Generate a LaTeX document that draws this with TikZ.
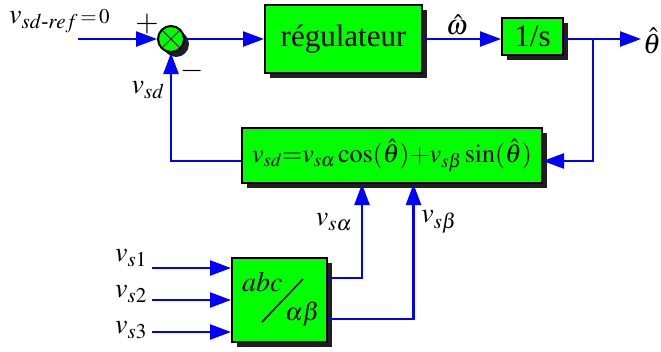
\documentclass[tikz,border=0pt]{standalone}
\usepackage{amsmath}
\usepackage{mathptmx}
\usepackage{fontspec}
\setmainfont{Liberation Serif}
\DeclareMathSizes{28}{28}{21}{16}
\DeclareMathSizes{26}{26}{19}{14}
\DeclareMathSizes{25}{25}{18}{13}
\DeclareMathSizes{30}{30}{21}{16}
\usetikzlibrary{arrows.meta,shadows,calc}
\definecolor{lgreen}{RGB}{0,255,0}
\definecolor{lblue}{RGB}{0,0,255}
\tikzset{
  blk/.style={draw=black, line width=2pt, fill=lgreen, inner sep=0pt,
    drop shadow={shadow xshift=5pt, shadow yshift=-5pt, opacity=1, fill=black!88}},
  sig/.style={draw=lblue, line width=2.4pt},
  arr/.style={sig, -{Triangle[length=21pt,width=15pt]}},
  lbl/.style={inner sep=0pt, font=\fontsize{28}{30}\selectfont},
  sgn/.style={inner sep=0pt, font=\fontsize{30}{32}\selectfont},
}
\begin{document}
\begin{tikzpicture}[x=1pt,y=-1pt]
\useasboundingbox (0,0) rectangle (661,351);
% blocks
\node[blk, circle, minimum size=26pt] (sum) at (171,39) {};
\draw[line width=1pt] ($(sum.center)+(-8.5,-8.5)$) -- ($(sum.center)+(8.5,8.5)$);
\draw[line width=1pt] ($(sum.center)+(-8.5,8.5)$) -- ($(sum.center)+(8.5,-8.5)$);
\node[blk, minimum width=157pt, minimum height=68pt] (reg) at (343.5,39)
  {\fontsize{31}{33}\selectfont régulateur};
\node[blk, minimum width=61pt, minimum height=37pt] (integ) at (532.5,36)
  {\fontsize{31}{33}\selectfont 1/s};
\node[blk, minimum width=300pt, minimum height=55pt] (fb) at (392,155.5)
  {\fontsize{26}{28}\selectfont $v_{sd}{=}v_{s\alpha}\cos(\hat{\theta}){+}v_{s\beta}\sin(\hat{\theta})$};
\node[blk, minimum width=95pt, minimum height=84pt] (abc) at (279.5,300) {};
\node[lbl, anchor=base west] (abcT) at (242,291) {$abc$};
\node[lbl, font=\fontsize{25}{27}\selectfont, anchor=base east] (abAB) at (320,320) {$\alpha\beta$};
\draw[line width=1.6pt] (262,322) -- (303,279);
% coordinates
\coordinate (in) at (78,39);
\coordinate (out) at (641,39);
\coordinate (br) at (593,39);
\coordinate (fbR) at (593,161);
\coordinate (fbL) at (171,161);
\coordinate (i1) at (152,268);
\coordinate (i2) at (152,300);
\coordinate (i3) at (152,332);
\coordinate (o1) at (362,278);
\coordinate (o2) at (413.5,319);
% connectors
\draw[arr] (in) -- (sum.west);
\draw[arr] (sum.east) -- (reg.west);
\draw[arr] (reg.east) -- (reg.east -| integ.west);
\draw[arr] (integ.east |- out) -- (out);
\draw[arr] (br) -- (fbR) -- (fbR -| fb.east);
\draw[arr] (fbL -| fb.west) -- (fbL) -- (sum.south);
\draw[arr] (i1) -- (i1 -| abc.west);
\draw[arr] (i2) -- (i2 -| abc.west);
\draw[arr] (i3) -- (i3 -| abc.west);
\draw[arr] (o1 -| abc.east) -- (o1) -- (o1 |- fb.south);
\draw[arr] (o2 -| abc.east) -- (o2) -- (o2 |- fb.south);
% labels
\node[lbl, anchor=west] (lref) at (9,21) {$v_{sd\text{\itshape -}ref}\scriptstyle\,=\,0$};
\node[sgn] (lplus) at (147,24) {$+$};
\node[sgn] (lminus) at (192,71) {$-$};
\node[lbl] (lvsd) at (148,90) {$v_{sd}$};
\node[lbl] (lom) at (457,25) {$\hat{\omega}$};
\node[lbl, anchor=west] (lth) at (643,41) {$\hat{\theta}$};
\node[lbl] (lva) at (334,222) {$v_{s\alpha}$};
\node[lbl] (lvb) at (439,222) {$v_{s\beta}$};
\node[lbl] (lv1) at (131,258) {$v_{s1}$};
\node[lbl] (lv2) at (131,294) {$v_{s2}$};
\node[lbl] (lv3) at (131,330) {$v_{s3}$};
\end{tikzpicture}
\end{document}
